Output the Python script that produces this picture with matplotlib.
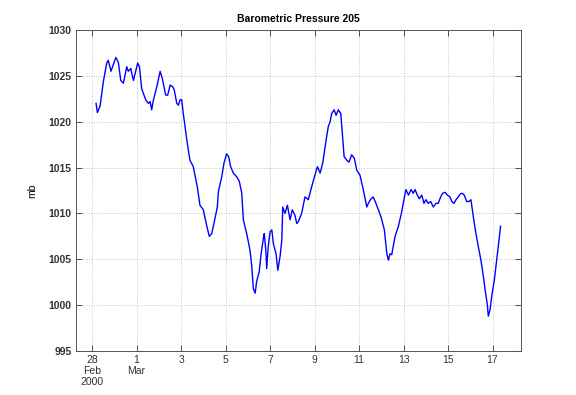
import matplotlib
matplotlib.use("Agg")
import matplotlib.pyplot as plt

plt.rcParams['font.family'] = ['Liberation Sans', 'DejaVu Sans']

# days since 28 Feb 2000 00:00
days = [0.18, 0.24, 0.36, 0.51, 0.66, 0.73, 0.85, 1.07, 1.18, 1.29, 1.41, 1.56, 1.63, 1.74,
        1.86, 2.05, 2.13, 2.23, 2.41, 2.53, 2.61, 2.68, 2.76, 2.91, 3.06, 3.16, 3.31, 3.40,
        3.51, 3.63, 3.69, 3.81, 3.88, 3.96, 4.03, 4.10, 4.26, 4.40, 4.55, 4.73, 4.85, 5.00,
        5.16, 5.27, 5.38, 5.53, 5.63, 5.68, 5.83, 5.93, 6.05, 6.14, 6.23, 6.35, 6.50, 6.62,
        6.73, 6.80, 6.95, 7.10, 7.18, 7.25, 7.33, 7.40, 7.51, 7.60, 7.70, 7.74, 7.81, 7.85,
        7.92, 8.00, 8.08, 8.15, 8.27, 8.35, 8.45, 8.53, 8.57, 8.67, 8.78, 8.90, 9.00, 9.12,
        9.20, 9.27, 9.42, 9.57, 9.72, 9.87, 10.02, 10.13, 10.25, 10.37, 10.52, 10.62, 10.70,
        10.77, 10.88, 10.97, 11.07, 11.18, 11.25, 11.33, 11.45, 11.55, 11.67, 11.79, 11.90,
        12.04, 12.19, 12.35, 12.42, 12.54, 12.64, 12.76, 12.87, 12.99, 13.14, 13.25, 13.32,
        13.39, 13.47, 13.62, 13.77, 13.92, 14.04, 14.11, 14.22, 14.34, 14.44, 14.52, 14.62,
        14.71, 14.82, 14.92, 15.01, 15.11, 15.22, 15.34, 15.46, 15.56, 15.67, 15.76, 15.87,
        15.97, 16.09, 16.17, 16.27, 16.36, 16.46, 16.54, 16.64, 16.73, 16.84, 16.94, 17.03,
        17.14, 17.24, 17.36, 17.48, 17.59, 17.69, 17.77, 17.81, 17.89, 17.96, 18.08, 18.19,
        18.26, 18.36]

pressure = [1022.0, 1021.0, 1021.7, 1024.4, 1026.4, 1026.7, 1025.5, 1027.0, 1026.5, 1024.5,
            1024.2, 1026.0, 1025.5, 1025.8, 1024.5, 1026.4, 1026.0, 1023.6, 1022.4, 1022.0,
            1022.2, 1021.3, 1022.4, 1023.8, 1025.5, 1024.7, 1022.9, 1022.9, 1024.0, 1023.8,
            1023.5, 1022.0, 1021.8, 1022.4, 1022.4, 1020.9, 1018.0, 1015.8, 1015.1, 1012.9,
            1010.9, 1010.4, 1008.6, 1007.5, 1007.8, 1009.5, 1010.7, 1012.4, 1014.0, 1015.5,
            1016.5, 1016.2, 1015.1, 1014.4, 1014.0, 1013.5, 1012.2, 1009.3, 1007.8, 1006.0,
            1004.2, 1001.8, 1001.3, 1002.6, 1003.6, 1005.6, 1007.3, 1007.8, 1006.0, 1004.0,
            1006.4, 1008.0, 1008.2, 1006.7, 1005.6, 1003.8, 1005.3, 1007.1, 1010.7, 1010.0,
            1010.9, 1009.3, 1010.4, 1009.8, 1008.9, 1009.1, 1010.0, 1011.8, 1011.5, 1012.9,
            1014.2, 1015.1, 1014.4, 1015.5, 1018.0, 1019.5, 1020.0, 1020.9, 1021.3, 1020.7,
            1021.3, 1020.9, 1018.7, 1016.2, 1015.8, 1015.6, 1016.4, 1016.0, 1014.7, 1014.2,
            1012.6, 1010.7, 1011.1, 1011.6, 1011.8, 1011.1, 1010.4, 1009.6, 1008.2, 1005.6,
            1004.9, 1005.6, 1005.5, 1007.5, 1008.6, 1010.2, 1011.8, 1012.6, 1012.0, 1012.6,
            1012.2, 1012.6, 1012.0, 1011.6, 1012.0, 1011.1, 1011.5, 1011.1, 1011.3, 1010.7,
            1011.1, 1011.1, 1011.8, 1012.2, 1012.3, 1012.0, 1011.8, 1011.3, 1011.1, 1011.5,
            1011.8, 1012.1, 1012.2, 1012.0, 1011.3, 1011.3, 1011.5, 1009.6, 1008.0, 1006.4,
            1004.9, 1003.1, 1001.3, 1000.0, 998.8, 999.5, 1000.9, 1002.7, 1004.9, 1006.4,
            1008.6]

xtick_days = [0, 2, 4, 6, 8, 10, 12, 14, 16, 18]
xtick_labels = ["28\nFeb\n2000", "1\nMar", "3", "5", "7", "9", "11", "13", "15", "17"]
ytick_vals = [995, 1000, 1005, 1010, 1015, 1020, 1025, 1030]

fig = plt.figure(figsize=(5.76, 3.95), dpi=100)
ax = fig.add_axes([0.132, 0.1114, 0.7725, 0.8126])
ax.plot(days, pressure, color=(0, 0, 1), linewidth=1.0)

ax.set_xlim(-0.72, 19.28)
ax.set_ylim(995, 1030)
ax.set_xticks(xtick_days)
ax.set_xticklabels(xtick_labels, fontsize=7.5, linespacing=1.1)
ax.set_yticks(ytick_vals)
ax.set_yticklabels([str(v) for v in ytick_vals], fontsize=7.5, fontweight='bold')
ax.tick_params(direction='in', length=4, width=0.6, colors='#333333',
               top=True, right=True, pad=3)
ax.grid(True, linestyle=(0, (1, 2)), color='#b0b0b0', linewidth=0.6)
for s in ax.spines.values():
    s.set_color('#555555')
    s.set_linewidth(0.7)

ax.set_title("Barometric Pressure 205", fontsize=7.5, fontweight='bold', pad=6)
ax.set_ylabel("mb", fontsize=7.5, labelpad=8)

fig.savefig("out.png", dpi=100)
